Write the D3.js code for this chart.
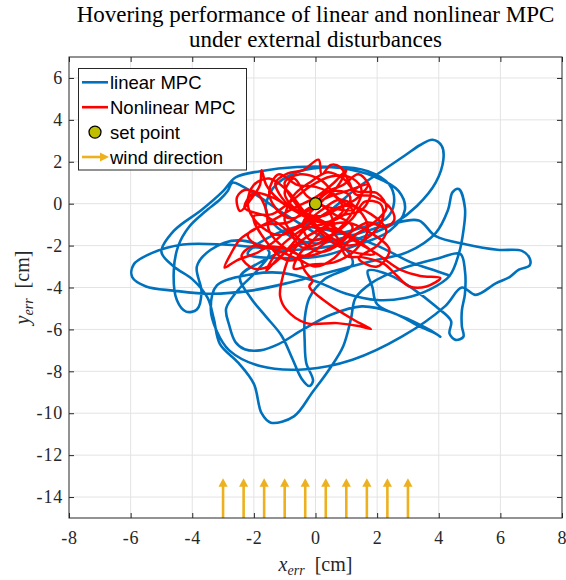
<!DOCTYPE html>
<html>
<head>
<meta charset="utf-8">
<script src="https://cdn.jsdelivr.net/npm/d3@7"></script>
<style>
  body { margin: 0; background: #fff; }
  svg { display: block; }
</style>
</head>
<body>
<div id="chart"></div>
<script>
// trajectory of the linear MPC (x_err, y_err) in cm
const linearMPC = [
  [-0.3,-1.0],[0.5,-0.3],[1.3,0.7],[2.1,1.5],[2.9,2.3],[3.4,2.8],[3.8,3.05],[4.1,2.75],[4.15,2.1],[3.9,1.0],[3.3,-0.1],[2.6,-0.9],[1.7,-1.5],[0.6,-2.0],[-0.6,-2.2],
  [-1.8,-2.1],[-3.0,-1.95],[-4.3,-1.95],[-5.3,-2.35],[-5.9,-2.9],[-5.95,-3.5],[-5.5,-3.95],[-4.6,-4.15],[-3.4,-4.3],[-2.1,-4.15],[-0.8,-3.75],[0.5,-3.25],[1.8,-2.75],[3.0,-2.3],[3.9,-1.4],[4.3,-0.3],[4.45,0.55],[4.65,0.7],[4.85,-0.2],[4.8,-1.3],[4.65,-2.4],[4.35,-3.45],[3.7,-4.1],[2.9,-4.5],[2.0,-4.6],
  [1.0,-4.3],[0.0,-3.7],[-1.1,-3.3],[-2.2,-3.4],[-3.2,-3.9],[-3.4,-5.0],[-3.2,-6.1],[-2.8,-7.0],[-1.8,-7.75],[-0.3,-7.9],[1.2,-7.45],[2.8,-6.35],[4.2,-4.9],[4.75,-4.0],[5.2,-4.35],[5.85,-3.8],[6.3,-3.5],[6.6,-3.15],[6.95,-2.95],[6.95,-2.6],[6.7,-2.25],[5.9,-2.2],[4.9,-1.95],[3.9,-1.55],[3.35,-0.8],[2.4,-1.0],[1.2,-1.5],[0.0,-1.9],
  [-1.0,-1.4],[-1.6,-0.4],[-1.4,0.7],[-0.6,1.5],[0.6,1.75],[1.7,1.55],[2.4,0.9],[2.55,0.05],[2.3,-0.7],[1.6,-1.1],
  [0.6,-1.5],[-0.6,-2.0],[-1.8,-2.8],[-2.45,-3.5],[-2.1,-4.5],[-1.6,-5.4],[-1.1,-6.3],[-0.75,-7.4],[-0.45,-8.35],[-0.2,-8.7],[-0.08,-8.45],[-0.3,-7.6],[-0.35,-6.6],[-0.35,-5.5],[-0.2,-4.5],[0.3,-3.6],[1.2,-2.9],
  [1.0,-2.2],[0.0,-1.4],[-1.0,-0.5],[-1.8,0.3],[-2.4,0.85],[-2.7,1.0],[-2.85,0.6],[-3.1,0.2],[-3.6,-0.4],[-4.1,-1.1],[-4.45,-2.0],[-4.6,-3.2],[-4.5,-4.6],[-4.2,-5.15],[-3.85,-5.05],[-3.7,-4.2],[-3.85,-3.0],[-3.4,-2.2],[-2.5,-1.75],
  [-1.5,-2.3],[-1.9,-3.2],[-2.5,-4.1],[-2.9,-5.0],[-2.8,-5.8],[-2.6,-6.6],[-2.3,-6.95],[-1.8,-7.0],[-1.2,-6.7],[-0.4,-6.0],[0.5,-5.3],[1.5,-4.9],[2.5,-5.2],[3.3,-5.8],[3.9,-6.2],[4.05,-6.35],[3.8,-6.1],[3.0,-5.5],[2.0,-4.8],[1.85,-4.0],[1.7,-3.2],
  [2.4,-3.4],[3.2,-4.1],[3.9,-4.9],[4.4,-5.6],[4.35,-6.2],[4.55,-6.5],[4.8,-6.35],[4.75,-5.85],[4.75,-5.1],[4.85,-4.3],[4.85,-3.2],[4.7,-2.4],
  [4.0,-2.6],[2.8,-3.1],[1.8,-3.8],[1.3,-4.5],[1.15,-5.5],[0.9,-6.8],[0.45,-7.9],[-0.1,-9.0],[-0.7,-10.15],[-1.45,-10.45],[-1.75,-10.0],[-2.0,-8.6],[-2.5,-7.6],[-3.1,-6.7],[-3.3,-5.5],[-3.5,-4.5],[-4.0,-3.6],[-4.6,-3.0],
  [-5.0,-2.3],[-4.6,-1.3],[-3.7,-0.3],[-3.0,0.6],[-2.6,1.25],[-1.8,1.55],[-0.6,1.75],[0.8,1.7],[1.9,1.3],[2.7,0.6],[2.9,-0.3],[2.4,-1.3],[1.3,-2.0],[0.2,-2.5],[-1.0,-2.6],[-2.2,-2.4],
  [-1.5,-1.6],[-0.5,-1.1],[0.8,-1.4],[2.0,-2.0],[3.1,-2.8],[3.9,-3.2],[4.3,-3.4]
];

// trajectory of the nonlinear MPC
const nonlinearMPC = [
  [0.0,0.0],[0.5,0.6],[1.1,0.4],[1.0,-0.4],[0.3,-0.9],[-0.5,-0.5],[-1.1,0.3],[-1.3,1.0],[-0.9,1.45],[-0.4,1.6],[0.1,2.1],[0.2,1.4],[0.5,1.85],[0.8,1.75],[1.1,1.0],[1.3,0.45],[1.9,0.35],[2.45,-0.25],[2.55,-0.8],[2.25,-1.1],
  [1.7,-0.9],[1.1,-1.4],[0.5,-2.1],[-0.3,-2.5],[-1.0,-2.1],[-1.5,-1.3],[-1.6,-0.3],[-1.9,0.5],[-2.3,0.65],[-2.55,0.3],[-2.45,-0.35],[-2.1,0.2],[-1.8,0.9],[-1.75,1.6],[-1.6,0.9],[-1.2,0.2],[-0.6,-0.4],[0.1,-0.8],[0.7,-1.6],[1.0,-2.5],
  [1.5,-2.55],[2.2,-2.85],[2.65,-3.45],[3.05,-3.95],[3.6,-3.95],[4.05,-3.55],[3.4,-3.45],[2.75,-3.15],[2.0,-2.4],[1.3,-1.8],[0.5,-1.2],[-0.2,-1.5],[-0.8,-2.4],[-1.05,-3.4],[-1.15,-4.4],[-0.95,-5.05],[-0.3,-5.7],[0.7,-5.7],[1.45,-5.85],[1.8,-5.98],
  [1.25,-5.55],[0.4,-4.75],[-0.2,-3.95],[-0.1,-3.7],[-0.35,-3.2],[-0.6,-2.4],[-1.5,-2.05],[-1.9,-2.35],[-2.55,-2.7],[-2.95,-3.05],[-2.75,-2.4],[-2.45,-1.7],[-2.0,-1.25],[-1.4,-0.8],[-0.7,-0.2],[0.0,0.3],[0.6,1.0],[1.0,1.6],[0.7,0.8],[0.2,0.1],
  [-0.4,-0.9],[-0.2,-1.7],[0.5,-1.5],[1.2,-0.7],[1.6,0.1],[2.1,0.0],[2.2,-0.6],[1.8,-1.5],[1.1,-2.0],[0.3,-1.4],[-0.3,-0.5],[-0.9,0.6],[-1.5,1.2],[-2.0,0.9],[-2.2,0.0],[-1.9,-0.9],[-1.2,-1.5],[-0.5,-1.1],[0.2,-0.3],[0.8,0.2],
  [1.4,-0.3],[1.7,-1.2],[1.3,-2.2],[0.6,-2.8],[-0.1,-2.9],[-0.7,-3.1],[-0.4,-2.2],[0.1,-1.9],[0.9,-1.0],[1.5,0.6],[1.2,1.2],[0.5,1.3],[-0.2,0.8],[-0.8,0.1],[-1.4,-0.5],[-2.0,-0.6],[-1.6,-1.8],[-0.9,-2.7],[0.0,-2.2],[0.6,-1.3],
  [0.4,-0.3],[-0.3,0.4],[-0.7,1.2],[-1.0,0.5],[-0.6,-0.3],[0.2,-0.6],[1.0,-0.1],[1.8,-0.5],[2.3,-1.3],[2.0,-2.0],[1.4,-2.6],[2.0,-3.0],[2.4,-2.2],[1.8,-1.4],[1.0,-0.9],[0.3,-1.1],[-0.5,-1.8],[-1.2,-2.6],[-1.6,-3.2],[-1.1,-2.0],
  [-0.4,-1.2],[0.4,-0.4],[1.3,0.2],[1.7,0.9],[1.0,0.6],[0.4,0.3],[-0.2,-0.2],[-0.9,-0.9],[-1.6,-1.0],[-2.2,-1.5],[-1.7,-2.1],[-1.0,-1.4],[-0.3,-0.8],[0.0,0.0],
  [0.6,-0.5],[1.2,-1.1],[0.8,-1.9],[0.1,-2.3],[-0.6,-1.6],[-1.0,-0.8],[-0.7,0.4],[-0.2,1.0],[0.4,1.5],[0.9,1.2],[1.3,0.6],[2.0,0.5],[2.3,-0.2],[1.9,-0.9],[1.2,-1.6],[0.6,-2.6],[0.0,-3.0],[-0.5,-2.7],[-1.3,-2.2],[-2.0,-2.0],
  [-2.4,-2.5],[-2.0,-3.1],[-1.4,-2.9],[-0.8,-2.0],[-0.3,-1.2],[0.4,-0.9],[0.9,-0.3],[0.6,0.4],[0.0,0.8],[-0.6,0.9],[-1.2,1.4],[-1.5,0.6],[-1.3,-0.2],[-0.8,-0.7],[-0.2,-0.3],[0.3,0.5],[0.9,0.9],[1.4,1.4],[1.8,0.6],[1.5,-0.3],
  [0.8,-0.6],[0.2,-1.3],[-0.4,-2.1],[-0.9,-1.3],[-1.6,-0.6],[-2.3,-0.2],[-2.0,0.5],[-1.4,0.3],[-0.8,-0.2],[-0.1,-0.6],[0.7,-1.2],[1.5,-1.9],[1.9,-2.4],[1.2,-2.3],[0.5,-1.8],[-0.1,-1.0],[-0.6,-0.1],[-1.0,1.0],[-0.5,1.4],[0.2,1.1],
  [0.7,0.3],[1.2,-0.3],[0.5,-0.2],[0.0,0.0]
];

const setPoint = [[0, 0]];
const windX = [-3, -2.333, -1.667, -1, -0.333, 0.333, 1, 1.667, 2.333, 3];
const windBase = -15, windTip = -13.1;

const xTicks = [-8, -6, -4, -2, 0, 2, 4, 6, 8];
const yTicks = [-14, -12, -10, -8, -6, -4, -2, 0, 2, 4, 6];
const legendLabels = ["linear MPC", "Nonlinear MPC", "set point", "wind direction"];

const colBlue = "#0072BD", colRed = "#FF0000", colWind = "#EDB120", colSet = "#BFBF00";
const axisCol = "#262626";
const serif = "'Liberation Serif', 'Times New Roman', serif";
const sans = "'Liberation Sans', Arial, sans-serif";

const margin = {top: 57, right: 4, bottom: 62, left: 69},
  width = 566 - margin.left - margin.right,
  height = 580 - margin.top - margin.bottom;

const root = d3.select("#chart").append("svg")
  .attr("width", 566).attr("height", 580);

const svg = root.append("g")
  .attr("transform", `translate(${margin.left},${margin.top})`);

const x = d3.scaleLinear().domain([-8, 8]).range([0, width]);
const y = d3.scaleLinear().domain([-15, 7]).range([height, 0]);

// grid
svg.append("g").selectAll("line").data(xTicks.slice(1, -1)).join("line")
  .attr("x1", d => x(d)).attr("x2", d => x(d)).attr("y1", 0).attr("y2", height)
  .attr("stroke", "#e3e3e3").attr("stroke-width", 1);
svg.append("g").selectAll("line").data(yTicks).join("line")
  .attr("y1", d => y(d)).attr("y2", d => y(d)).attr("x1", 0).attr("x2", width)
  .attr("stroke", "#e3e3e3").attr("stroke-width", 1);

// axes, ticks pointing inward
const fmt = d => String(d);
svg.append("g").attr("transform", `translate(0,${height})`)
  .call(d3.axisBottom(x).tickValues(xTicks).tickSizeInner(-5).tickSizeOuter(0).tickPadding(13).tickFormat(fmt));
svg.append("g")
  .call(d3.axisLeft(y).tickValues(yTicks).tickSizeInner(-5).tickSizeOuter(0).tickPadding(6).tickFormat(fmt));
svg.append("g")
  .call(d3.axisTop(x).tickValues(xTicks).tickSizeInner(-5).tickSizeOuter(0).tickFormat(""));
svg.append("g").attr("transform", `translate(${width},0)`)
  .call(d3.axisRight(y).tickValues(yTicks).tickSizeInner(-5).tickSizeOuter(0).tickFormat(""));
svg.selectAll(".domain").remove();
svg.selectAll(".tick line").attr("stroke", axisCol);
svg.selectAll(".tick text").attr("fill", axisCol)
  .style("font-family", serif).style("font-size", "18px").style("letter-spacing", "0.8px");

// clip for data
svg.append("clipPath").attr("id", "plotclip")
  .append("rect").attr("width", width).attr("height", height);

const line = d3.line().x(d => x(d[0])).y(d => y(d[1])).curve(d3.curveCatmullRom.alpha(0.5));
const data = svg.append("g").attr("clip-path", "url(#plotclip)");

data.append("path").datum(linearMPC)
  .attr("d", line).attr("fill", "none").attr("stroke", colBlue)
  .attr("stroke-width", 2.6).attr("stroke-linejoin", "round").attr("stroke-linecap", "round");
data.append("path").datum(nonlinearMPC)
  .attr("d", line).attr("fill", "none").attr("stroke", colRed)
  .attr("stroke-width", 2.5).attr("stroke-linejoin", "round").attr("stroke-linecap", "round");

data.selectAll(".setpt").data(setPoint).join("circle")
  .attr("class", "setpt")
  .attr("cx", d => x(d[0])).attr("cy", d => y(d[1])).attr("r", 6)
  .attr("fill", colSet).attr("stroke", "#000").attr("stroke-width", 1.3);

// wind arrows
const headL = 8.5, headW = 4.6;
const wind = data.append("g");
windX.forEach(wx => {
  const px = x(wx), y0 = y(windBase), y1 = y(windTip);
  wind.append("line").attr("x1", px).attr("x2", px).attr("y1", y0).attr("y2", y1 + headL - 1)
    .attr("stroke", colWind).attr("stroke-width", 2.6);
  wind.append("path")
    .attr("d", `M${px},${y1}L${px - headW},${y1 + headL}L${px + headW},${y1 + headL}Z`)
    .attr("fill", colWind);
});

// box
svg.append("rect").attr("width", width).attr("height", height)
  .attr("fill", "none").attr("stroke", axisCol).attr("stroke-width", 1);

// legend
const lg = root.append("g");
lg.append("rect").attr("x", 78.5).attr("y", 68.5).attr("width", 168).attr("height", 101.5)
  .attr("fill", "#fff").attr("stroke", axisCol).attr("stroke-width", 1);
legendLabels.forEach((lab, i) => {
  const ly = 82.3 + i * 24.9;
  if (i < 2) {
    lg.append("line").attr("x1", 82).attr("x2", 108).attr("y1", ly).attr("y2", ly)
      .attr("stroke", i === 0 ? colBlue : colRed).attr("stroke-width", 2.6);
  } else if (i === 2) {
    lg.append("circle").attr("cx", 95).attr("cy", ly).attr("r", 6)
      .attr("fill", colSet).attr("stroke", "#000").attr("stroke-width", 1.3);
  } else {
    lg.append("line").attr("x1", 82).attr("x2", 101).attr("y1", ly).attr("y2", ly)
      .attr("stroke", colWind).attr("stroke-width", 2.6);
    lg.append("path").attr("d", `M109,${ly}L100,${ly - 4.5}L100,${ly + 4.5}Z`).attr("fill", colWind);
  }
  lg.append("text").attr("x", 110).attr("y", ly).attr("dy", "0.36em")
    .style("font-family", sans).style("font-size", "18.5px").attr("fill", "#000")
    .text(lab);
});

// title
const cx = margin.left + width / 2;
const title = root.append("text").attr("text-anchor", "middle")
  .style("font-family", serif).style("font-size", "23px").attr("fill", "#000");
title.append("tspan").attr("x", cx).attr("y", 22).text("Hovering performance of linear and nonlinear MPC");
title.append("tspan").attr("x", cx).attr("y", 47).text("under external disturbances");

// axis labels
const xl = root.append("text").attr("x", cx).attr("y", 571).attr("text-anchor", "middle")
  .style("font-family", serif).style("font-size", "20px").attr("fill", axisCol);
xl.append("tspan").style("font-style", "italic").text("x");
xl.append("tspan").style("font-style", "italic").style("font-size", "14px").attr("dy", 4).text("err");
xl.append("tspan").attr("dy", -4).text("\u2002[cm]");

const cy = margin.top + height / 2;
const yl = root.append("text").attr("transform", `translate(29,${cy}) rotate(-90)`).attr("text-anchor", "middle")
  .style("font-family", serif).style("font-size", "20px").attr("fill", axisCol);
yl.append("tspan").style("font-style", "italic").text("y");
yl.append("tspan").style("font-style", "italic").style("font-size", "14px").attr("dy", 4).text("err");
yl.append("tspan").attr("dy", -4).text("\u2002[cm]");
</script>
</body>
</html>
